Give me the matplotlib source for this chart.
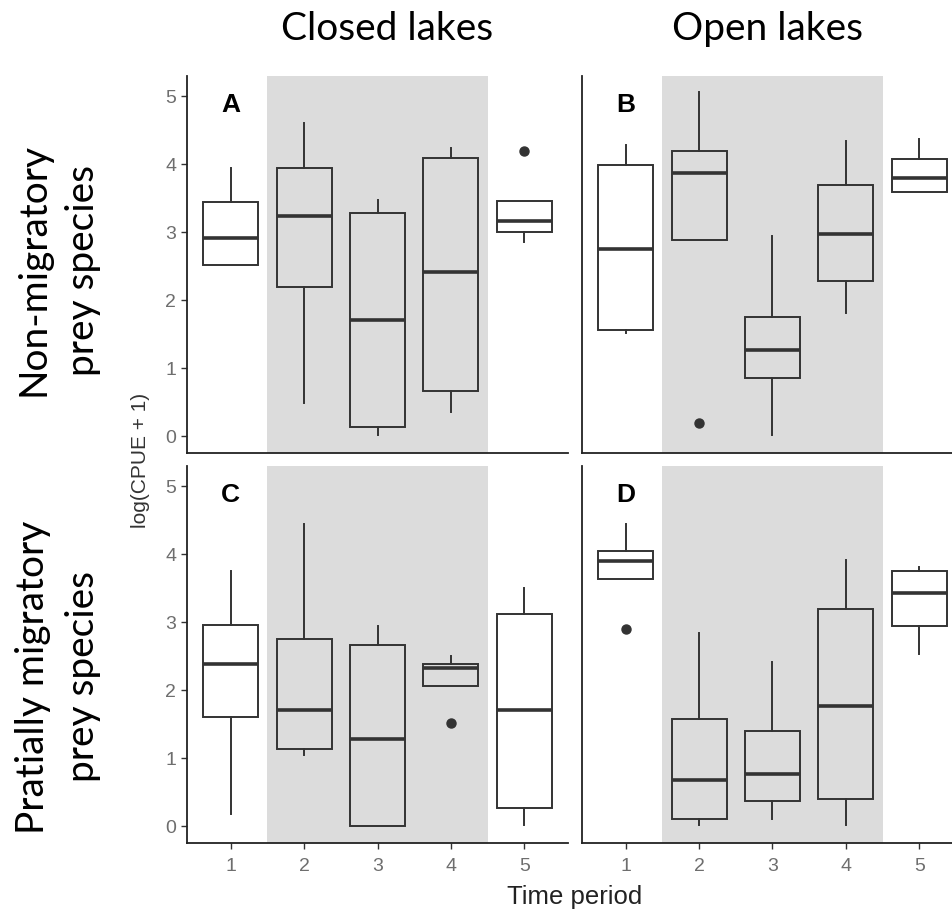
import matplotlib
matplotlib.use("Agg")
import matplotlib.pyplot as plt

# ---------------- data ----------------
periods = [1, 2, 3, 4, 5]
tick_labels = ["1", "2", "3", "4", "5"]
col_titles = ["Closed lakes", "Open lakes"]
row_titles = ["Non-migratory\nprey species", "Pratially migratory\nprey species"]
panel_letters = ["A", "B", "C", "D"]

# Panel A: closed lakes, non-migratory
A_whislo = [2.52, 0.49, 0.02, 0.36, 2.85]
A_q1     = [2.52, 2.19, 0.13, 0.66, 3.01]
A_med    = [2.92, 3.24, 1.71, 2.42, 3.16]
A_q3     = [3.44, 3.94, 3.28, 4.10, 3.46]
A_whishi = [3.94, 4.61, 3.47, 4.24, 3.46]
A_fliers = [[], [], [], [], [4.20]]

# Panel B: open lakes, non-migratory
B_whislo = [1.52, 2.88, 0.02, 1.81, 3.59]
B_q1     = [1.56, 2.88, 0.85, 2.28, 3.59]
B_med    = [2.76, 3.87, 1.26, 2.97, 3.80]
B_q3     = [3.99, 4.20, 1.75, 3.70, 4.08]
B_whishi = [4.29, 5.06, 2.94, 4.35, 4.37]
B_fliers = [[], [0.19], [], [], []]

# Panel C: closed lakes, partially migratory
C_whislo = [0.17, 1.05, 0.00, 2.06, 0.02]
C_q1     = [1.61, 1.13, 0.00, 2.06, 0.27]
C_med    = [2.39, 1.71, 1.28, 2.33, 1.71]
C_q3     = [2.96, 2.75, 2.67, 2.38, 3.12]
C_whishi = [3.76, 4.45, 2.94, 2.50, 3.50]
C_fliers = [[], [], [], [1.51], []]

# Panel D: open lakes, partially migratory
D_whislo = [3.63, 0.02, 0.10, 0.02, 2.53]
D_q1     = [3.63, 0.11, 0.37, 0.40, 2.94]
D_med    = [3.90, 0.68, 0.76, 1.77, 3.43]
D_q3     = [4.05, 1.58, 1.40, 3.20, 3.76]
D_whishi = [4.45, 2.84, 2.41, 3.92, 3.82]
D_fliers = [[2.90], [], [], [], []]

shade_from, shade_to = 1.5, 4.5

# ---------------- figure ----------------
W, H = 953, 914
fig = plt.figure(figsize=(W / 100, H / 100), dpi=100)
fig.patch.set_facecolor("white")


def px_axes(left, top, right, bottom):
    return fig.add_axes([left / W, 1 - bottom / H, (right - left) / W, (bottom - top) / H])


ax_A = px_axes(186.7, 76, 568.3, 453)
ax_B = px_axes(581.7, 76, 963.3, 453)
ax_C = px_axes(186.7, 466, 568.3, 843)
ax_D = px_axes(581.7, 466, 963.3, 843)

panels = [
    (ax_A, A_whislo, A_q1, A_med, A_q3, A_whishi, A_fliers),
    (ax_B, B_whislo, B_q1, B_med, B_q3, B_whishi, B_fliers),
    (ax_C, C_whislo, C_q1, C_med, C_q3, C_whishi, C_fliers),
    (ax_D, D_whislo, D_q1, D_med, D_q3, D_whishi, D_fliers),
]

edge = "#333333"
arial = ["Liberation Sans", "DejaVu Sans"]
for i, (ax, wlo, q1, med, q3, whi, fl) in enumerate(panels):
    stats = []
    for k in range(len(periods)):
        stats.append(dict(whislo=wlo[k], q1=q1[k], med=med[k], q3=q3[k],
                          whishi=whi[k], fliers=fl[k]))
    ax.axvspan(shade_from, shade_to, color="#dcdcdc", lw=0, zorder=0)
    ax.bxp(stats, positions=periods, widths=0.75, showcaps=False, patch_artist=True,
           boxprops=dict(facecolor="none", edgecolor=edge, linewidth=1.4),
           whiskerprops=dict(color=edge, linewidth=1.4),
           medianprops=dict(color=edge, linewidth=2.6, solid_capstyle="butt"),
           flierprops=dict(marker="o", markerfacecolor=edge, markeredgecolor=edge,
                           markersize=6.5))
    ax.set_xlim(0.4, 5.6)
    ax.set_ylim(-0.25, 5.3)
    ax.set_facecolor("white")
    for s in ["top", "right"]:
        ax.spines[s].set_visible(False)
    for s in ["left", "bottom"]:
        ax.spines[s].set_color("#222222")
        ax.spines[s].set_linewidth(1.3)
    ax.set_yticks([0, 1, 2, 3, 4, 5])
    ax.set_xticks(periods)
    ax.set_xticklabels(tick_labels)
    ax.tick_params(axis="both", colors="#333333", labelcolor="#6e6e6e", labelsize=14,
                   length=4.5, width=1.0)
    ax.tick_params(axis="x", pad=6)
    ax.tick_params(axis="y", pad=3)
    for lab in ax.get_xticklabels() + ax.get_yticklabels():
        lab.set_fontfamily(arial)
    if i in (1, 3):
        ax.tick_params(axis="y", left=False, labelleft=False)
    if i in (0, 1):
        ax.tick_params(axis="x", bottom=False, labelbottom=False)
    ax.text(1, 4.88, panel_letters[i], ha="center", va="center", fontsize=19,
            fontweight="bold", family=arial, color="black")

# column titles
title_font = ["Lato", "DejaVu Sans"]
fig.text(387 / W, 1 - 40 / H, col_titles[0], ha="center", va="baseline",
         fontsize=28, family=title_font, color="black")
fig.text(768 / W, 1 - 40 / H, col_titles[1], ha="center", va="baseline",
         fontsize=28, family=title_font, color="black")

# row titles
fig.text(58 / W, 1 - 270 / H, row_titles[0], ha="center", va="center", rotation=90,
         fontsize=28, family=title_font, color="black", multialignment="center",
         linespacing=1.45)
fig.text(58 / W, 1 - 677 / H, row_titles[1], ha="center", va="center", rotation=90,
         fontsize=28, family=title_font, color="black", multialignment="center",
         linespacing=1.45)

# axis labels
fig.text(141 / W, 1 - 460 / H, "log(CPUE + 1)", ha="center", va="center", rotation=90,
         fontsize=15, family=arial, color="#333333")
fig.text(575 / W, 1 - 897 / H, "Time period", ha="center", va="center",
         fontsize=18.5, family=arial, color="#222222")

fig.savefig("out.png", dpi=100)
